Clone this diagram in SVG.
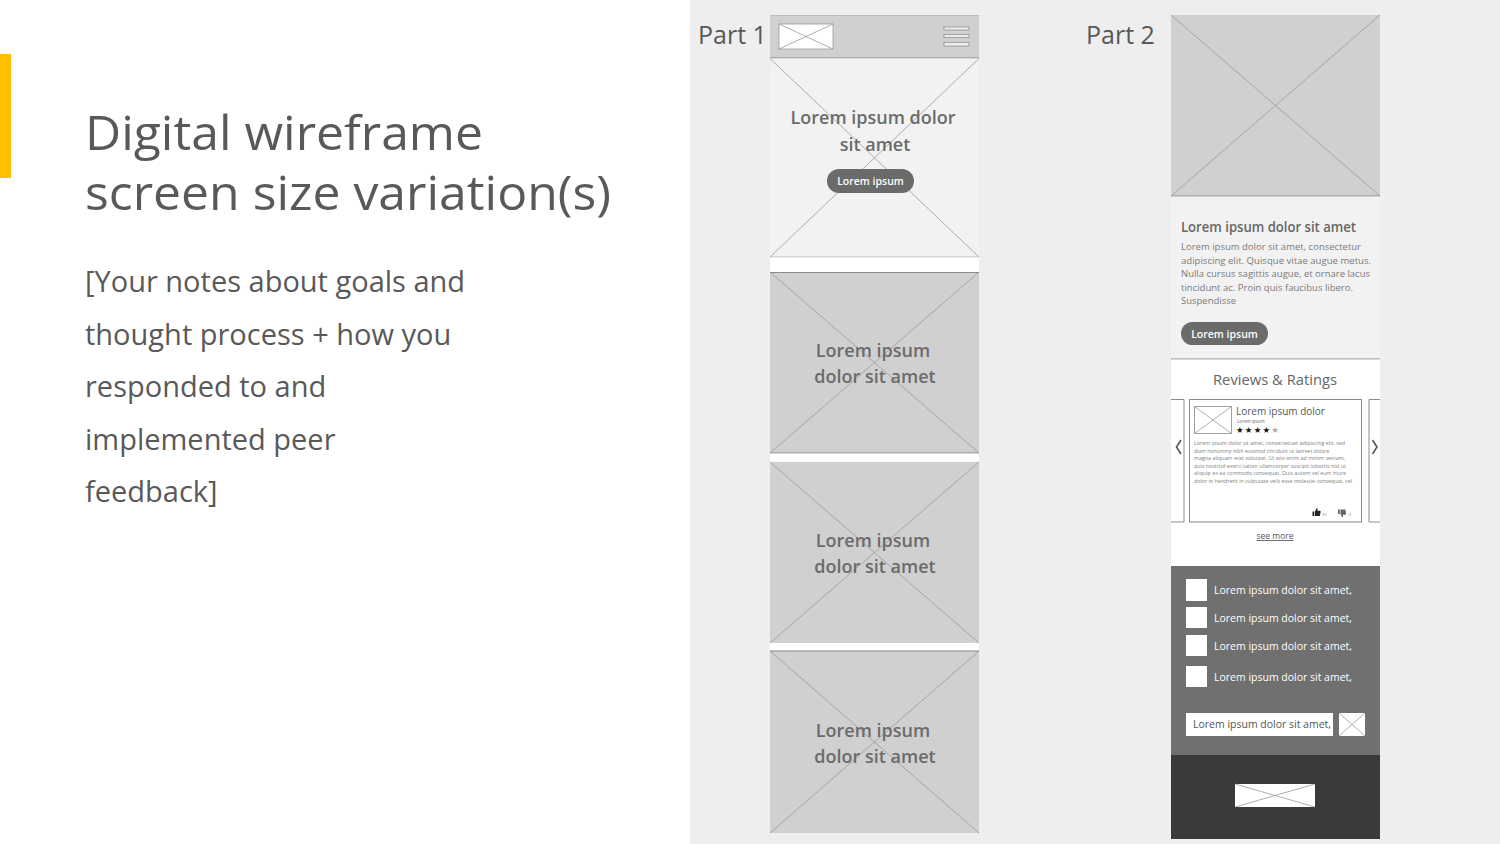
<svg xmlns="http://www.w3.org/2000/svg" width="1500" height="844" viewBox="0 0 1500 844">
<style>
.slide{font-family:"Open Sans","Noto Sans",sans-serif;fill:#595959}
.wf{font-family:"Open Sans","Noto Sans",sans-serif}
.x{stroke:#9a9a9a;stroke-width:0.8;fill:none}
.bx{fill:#d0d0d0}
.edge{stroke:#8a8a8a;stroke-width:1.2}
.big{font-size:18px;font-weight:600;fill:#6b6b6b;text-anchor:middle}
.btn{fill:#6b6b6b}
.btnt{font-size:10.5px;font-weight:600;fill:#fff;text-anchor:middle}
.para{font-size:9.5px;fill:#7a7a7a}
.tiny{font-size:4.4px;fill:#808080}
.chk{fill:#fff}
.wt{font-size:10px;fill:#fff}
.card{fill:#fff;stroke:#8a8a8a;stroke-width:1}
.chev{fill:none;stroke:#555;stroke-width:1.6}
</style>
<rect x="0" y="0" width="1500" height="844" fill="#ffffff"/>
<rect x="690" y="0" width="810" height="844" fill="#eeeeee"/>

<g id="slide-text">
<rect x="0" y="54" width="11" height="124" fill="#ffc000"/>
<text class="slide" font-size="47"><tspan x="85" y="150" textLength="398" lengthAdjust="spacingAndGlyphs">Digital wireframe</tspan><tspan x="85" y="210" textLength="526" lengthAdjust="spacingAndGlyphs">screen size variation(s)</tspan></text>
<text class="slide" font-size="29"><tspan x="85" y="292">[Your notes about goals and</tspan><tspan x="85" y="345">thought process + how you</tspan><tspan x="85" y="397">responded to and</tspan><tspan x="85" y="450">implemented peer</tspan><tspan x="85" y="502">feedback]</tspan></text>
<text class="slide" x="698" y="44" font-size="25">Part 1</text>
<text class="slide" x="1086" y="44" font-size="25">Part 2</text>
</g>

<g id="p1-header">
<rect x="770" y="15" width="209" height="43" class="bx"/>
<line x1="770" y1="15.5" x2="979" y2="15.5" stroke="#bdbdbd"/>
<line x1="770" y1="58" x2="979" y2="58" class="edge"/>
<rect x="779" y="24" width="54" height="25" fill="#fff" stroke="#9a9a9a" stroke-width="0.8"/>
<path class="x" d="M779 24L833 49M833 24L779 49"/>
<rect x="944" y="27" width="25" height="3" fill="#eee" stroke="#888" stroke-width="0.7"/>
<rect x="944" y="34.5" width="25" height="3" fill="#eee" stroke="#888" stroke-width="0.7"/>
<rect x="944" y="42.5" width="25" height="3.5" fill="#eee" stroke="#888" stroke-width="0.7"/>
</g>

<g id="p1-hero">
<rect x="770" y="58.5" width="209" height="198.5" fill="#f2f2f2"/>
<path class="x" d="M770 58.5L979 257M979 58.5L770 257"/>
<line x1="770" y1="257" x2="979" y2="257" stroke="#bdbdbd"/>
<rect x="770" y="257.5" width="209" height="14.5" fill="#fff"/>
<text class="wf big" x="873" y="124">Lorem ipsum dolor</text>
<text class="wf big" x="875" y="151">sit amet</text>
<rect x="827" y="169" width="87" height="24" rx="12" class="btn"/>
<text class="wf btnt" x="870.5" y="185">Lorem ipsum</text>
</g>

<g id="p1-box2">
<rect x="770" y="272" width="209" height="181" class="bx"/>
<path class="x" d="M770 272L979 453M979 272L770 453"/>
<line x1="770" y1="272.5" x2="979" y2="272.5" class="edge"/>
<line x1="770" y1="453" x2="979" y2="453" class="edge"/>
<rect x="770" y="453.6" width="209" height="8" fill="#fff"/>
<text class="wf big" x="873" y="357">Lorem ipsum</text>
<text class="wf big" x="875" y="383">dolor sit amet</text>
</g>

<g id="p1-box3">
<rect x="770" y="462" width="209" height="181" class="bx"/>
<path class="x" d="M770 462L979 643M979 462L770 643"/>
<rect x="770" y="643" width="209" height="7.5" fill="#fff"/>
<text class="wf big" x="873" y="547">Lorem ipsum</text>
<text class="wf big" x="875" y="573">dolor sit amet</text>
</g>

<g id="p1-box4">
<rect x="770" y="651" width="209" height="182" class="bx"/>
<path class="x" d="M770 651L979 833M979 651L770 833"/>
<line x1="770" y1="651" x2="979" y2="651" class="edge"/>
<text class="wf big" x="873" y="737">Lorem ipsum</text>
<text class="wf big" x="875" y="763">dolor sit amet</text>
</g>

<g id="p2-image">
<rect x="1171" y="15" width="209" height="181" class="bx"/>
<path class="x" d="M1171 15L1380 196M1380 15L1171 196"/>
<line x1="1171" y1="196" x2="1380" y2="196" class="edge"/>
</g>

<g id="p2-content">
<rect x="1171" y="196.6" width="209" height="162" fill="#f2f2f2"/>
<line x1="1171" y1="359" x2="1380" y2="359" class="edge"/>
<text class="wf" x="1181" y="232" font-size="13.5" font-weight="600" fill="#666" textLength="175" lengthAdjust="spacingAndGlyphs">Lorem ipsum dolor sit amet</text>
<text class="wf para" x="1181" y="250" textLength="180" lengthAdjust="spacingAndGlyphs">Lorem ipsum dolor sit amet, consectetur</text>
<text class="wf para" x="1181" y="263.5" textLength="190" lengthAdjust="spacingAndGlyphs">adipiscing elit. Quisque vitae augue metus.</text>
<text class="wf para" x="1181" y="277" textLength="189" lengthAdjust="spacingAndGlyphs">Nulla cursus sagittis augue, et ornare lacus</text>
<text class="wf para" x="1181" y="290.5" textLength="172" lengthAdjust="spacingAndGlyphs">tincidunt ac. Proin quis faucibus libero.</text>
<text class="wf para" x="1181" y="304" textLength="55" lengthAdjust="spacingAndGlyphs">Suspendisse</text>
<rect x="1181" y="322" width="87" height="23" rx="11.5" class="btn"/>
<text class="wf btnt" x="1224.5" y="337.5">Lorem ipsum</text>
</g>

<g id="p2-reviews">
<rect x="1171" y="359.6" width="209" height="206.4" fill="#fff"/>
<text class="wf" x="1275" y="385" font-size="14.5" fill="#666" text-anchor="middle" textLength="124" lengthAdjust="spacingAndGlyphs">Reviews &amp; Ratings</text>
<path d="M1171 399.5H1184V522H1171" fill="none" stroke="#8a8a8a" stroke-width="1"/>
<path d="M1380 399.5H1369V522H1380" fill="none" stroke="#8a8a8a" stroke-width="1"/>
<polyline class="chev" points="1181,440 1176.5,447 1181,454"/>
<polyline class="chev" points="1372.5,440 1377,447 1372.5,454"/>
<rect x="1189.5" y="399.5" width="172" height="122.5" class="card"/>
<rect x="1194.5" y="406.5" width="37" height="27" fill="#fff" stroke="#8a8a8a" stroke-width="0.8"/>
<path class="x" d="M1194.5 406.5L1231.5 433.5M1231.5 406.5L1194.5 433.5"/>
<text class="wf" x="1236" y="415" font-size="10" fill="#555">Lorem ipsum dolor</text>
<text class="wf" x="1237" y="423" font-size="4.5" fill="#666">Lorem ipsum</text>
<text x="1236" y="432.5" font-family="DejaVu Sans,sans-serif" font-size="8.5" fill="#111" letter-spacing="1.2">★★★★<tspan fill="#aaa">★</tspan></text>
<text class="wf tiny" x="1194" y="445" textLength="151" lengthAdjust="spacingAndGlyphs">Lorem ipsum dolor sit amet, consectetuer adipiscing elit, sed</text>
<text class="wf tiny" x="1194" y="452.5" textLength="135" lengthAdjust="spacingAndGlyphs">diam nonummy nibh euismod tincidunt ut laoreet dolore</text>
<text class="wf tiny" x="1194" y="460" textLength="151" lengthAdjust="spacingAndGlyphs">magna aliquam erat volutpat. Ut wisi enim ad minim veniam,</text>
<text class="wf tiny" x="1194" y="467.5" textLength="152" lengthAdjust="spacingAndGlyphs">quis nostrud exerci tation ullamcorper suscipit lobortis nisl ut</text>
<text class="wf tiny" x="1194" y="475" textLength="152" lengthAdjust="spacingAndGlyphs">aliquip ex ea commodo consequat. Duis autem vel eum iriure</text>
<text class="wf tiny" x="1194" y="482.5" textLength="158" lengthAdjust="spacingAndGlyphs">dolor in hendrerit in vulputate velit esse molestie consequat, vel</text>
<rect x="1312.5" y="511.5" width="1.8" height="4.5" fill="#222"/>
<path d="M1315 511.5L1316.6 508.3Q1317.8 507.8 1317.6 509.6L1317.3 510.8H1319.8Q1320.9 511 1320.6 512.2L1319.8 516H1315Z" fill="#222"/>
<text class="wf" x="1322" y="516" font-size="4" fill="#888">35</text>
<rect x="1338" y="509.5" width="1.8" height="4.5" fill="#666"/>
<path d="M1340.5 514L1342.1 517.2Q1343.3 517.7 1343.1 515.9L1342.8 514.7H1345.3Q1346.4 514.5 1346.1 513.3L1345.3 509.5H1340.5Z" fill="#666"/>
<text class="wf" x="1348.5" y="516" font-size="4" fill="#888">0</text>
<text class="wf" x="1275" y="539" font-size="8.5" fill="#555" text-anchor="middle" text-decoration="underline">see more</text>
</g>

<g id="p2-links">
<rect x="1171" y="566" width="209" height="189" fill="#707070"/>
<rect x="1186" y="579" width="21" height="22" class="chk"/>
<rect x="1186" y="607" width="21" height="21" class="chk"/>
<rect x="1186" y="635" width="21" height="21" class="chk"/>
<rect x="1186" y="666" width="21" height="21" class="chk"/>
<text class="wf wt" x="1214" y="594" textLength="138" lengthAdjust="spacingAndGlyphs">Lorem ipsum dolor sit amet,</text>
<text class="wf wt" x="1214" y="622" textLength="138" lengthAdjust="spacingAndGlyphs">Lorem ipsum dolor sit amet,</text>
<text class="wf wt" x="1214" y="650" textLength="138" lengthAdjust="spacingAndGlyphs">Lorem ipsum dolor sit amet,</text>
<text class="wf wt" x="1214" y="681" textLength="138" lengthAdjust="spacingAndGlyphs">Lorem ipsum dolor sit amet,</text>
<rect x="1186" y="713" width="147" height="23" fill="#fff"/>
<text class="wf" x="1193" y="727.5" font-size="10" fill="#555" textLength="138" lengthAdjust="spacingAndGlyphs">Lorem ipsum dolor sit amet,</text>
<rect x="1339" y="713" width="26" height="23" fill="#fff"/>
<path class="x" d="M1339 713L1365 736M1365 713L1339 736"/>
</g>

<g id="p2-footer">
<rect x="1171" y="755" width="209" height="84" fill="#3a3a3a"/>
<rect x="1235" y="784" width="80" height="23" fill="#fff"/>
<path class="x" d="M1235 784L1315 807M1315 784L1235 807"/>
</g>
</svg>
